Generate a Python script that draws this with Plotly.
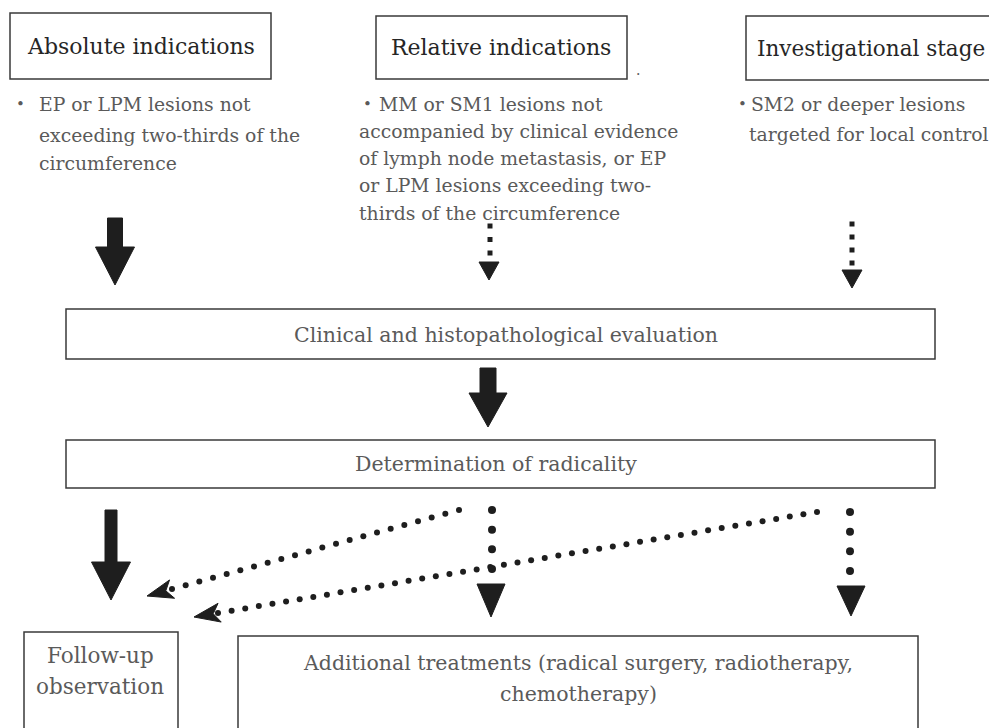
import math
import plotly.graph_objects as go

# ---------------- content ----------------
stage_titles = ["Absolute indications", "Relative indications", "Investigational stage"]
stage_bullets = [
    ["EP or LPM lesions not", "exceeding two-thirds of the", "circumference"],
    ["MM or SM1 lesions not", "accompanied by clinical evidence",
     "of lymph node metastasis, or EP", "or LPM lesions exceeding two-",
     "thirds of the circumference"],
    ["SM2 or deeper lesions", "targeted for local control"],
]
process_steps = ["Clinical and histopathological evaluation", "Determination of radicality"]
outcome_lines = [["Follow-up", "observation"],
                 ["Additional treatments (radical surgery, radiotherapy,", "chemotherapy)"]]

# ---------------- layout (pixel space) ----------------
W, H = 997, 728
PAGE_MARGIN = 8  # browser default body margin
SERIF = "DejaVu Serif"
BOX_COL = "#3a3a3a"
TITLE_COL = "#262626"
BODY_COL = "#5a5a5a"
ARROW_COL = "#1e1e1e"

stage_boxes = [(10, 13, 271, 79), (376, 16, 627, 79), (746, 16, 1010, 80)]
stage_title_x = [141, 501, 871]
stage_title_size = [22, 22, 21.5]
bullet_dot = [(20, 104), (367, 104), (742, 104)]
bullet_line_x = [[37, 37, 37], [377, 357, 357, 357, 357], [749, 747]]
bullet_line_y = [[104, 135, 163], [104, 131, 158, 185, 213], [104, 134]]

step_boxes = [(66, 309, 935, 359), (66, 440, 935, 488)]
step_text_pos = [(506, 335), (496, 464)]

outcome_boxes = [(24, 632, 178, 740), (238, 636, 918, 740)]
outcome_text_x = [100, 578]
outcome_text_y = [[655, 686], [663, 694]]
outcome_size = [21.5, 20.5]

fig = go.Figure()
shapes = []
annotations = []


def rect(b):
    return dict(type="rect", x0=b[0], y0=b[1], x1=b[2], y1=b[3],
                line=dict(color=BOX_COL, width=1.5), fillcolor="rgba(0,0,0,0)",
                layer="above")


def poly(points):
    d = "M " + " L ".join(f"{x},{y}" for x, y in points) + " Z"
    return dict(type="path", path=d, fillcolor=ARROW_COL,
                line=dict(color=ARROW_COL, width=1), layer="above")


def solid_down(cx, top, head_top, tip, shaft_w, head_w):
    s, h = shaft_w / 2, head_w / 2
    return poly([(cx - s, top), (cx + s, top), (cx + s, head_top), (cx + h, head_top),
                 (cx, tip), (cx - h, head_top), (cx - s, head_top)])


def tri_down(cx, base, tip, w):
    return poly([(cx - w / 2, base), (cx + w / 2, base), (cx, tip)])


def notched_head(tip, src, length, width):
    dx, dy = tip[0] - src[0], tip[1] - src[1]
    L = math.hypot(dx, dy)
    ux, uy = dx / L, dy / L
    px, py = -uy, ux
    bx, by = tip[0] - ux * length, tip[1] - uy * length
    nx, ny = tip[0] - ux * length * 0.75, tip[1] - uy * length * 0.75
    return poly([tip, (bx + px * width / 2, by + py * width / 2), (nx, ny),
                 (bx - px * width / 2, by - py * width / 2)])


def dots(p0, p1, n, size, symbol):
    xs = [p0[0] + (p1[0] - p0[0]) * i / (n - 1) for i in range(n)]
    ys = [p0[1] + (p1[1] - p0[1]) * i / (n - 1) for i in range(n)]
    fig.add_trace(go.Scatter(x=xs, y=ys, mode="markers", hoverinfo="skip",
                             marker=dict(size=size, color=ARROW_COL, symbol=symbol,
                                         line=dict(width=0)), showlegend=False))


# stage boxes, titles, bullets
for i, title in enumerate(stage_titles):
    shapes.append(rect(stage_boxes[i]))
    b = stage_boxes[i]
    annotations.append(dict(x=stage_title_x[i], y=(b[1] + b[3]) / 2, text=title,
                            showarrow=False, xanchor="center", yanchor="middle",
                            font=dict(family=SERIF, size=stage_title_size[i], color=TITLE_COL)))
    annotations.append(dict(x=bullet_dot[i][0], y=bullet_dot[i][1], text="•",
                            showarrow=False, xanchor="center", yanchor="middle",
                            font=dict(family=SERIF, size=15, color=BODY_COL)))
    for j, line in enumerate(stage_bullets[i]):
        annotations.append(dict(x=bullet_line_x[i][j], y=bullet_line_y[i][j], text=line,
                                showarrow=False, xanchor="left", yanchor="middle",
                                font=dict(family=SERIF, size=18.8, color=BODY_COL)))

# process steps
for i, step in enumerate(process_steps):
    shapes.append(rect(step_boxes[i]))
    annotations.append(dict(x=step_text_pos[i][0], y=step_text_pos[i][1], text=step,
                            showarrow=False, xanchor="center", yanchor="middle",
                            font=dict(family=SERIF, size=20.5, color=BODY_COL)))

# outcomes
for i, lines in enumerate(outcome_lines):
    shapes.append(rect(outcome_boxes[i]))
    for j, line in enumerate(lines):
        annotations.append(dict(x=outcome_text_x[i], y=outcome_text_y[i][j], text=line,
                                showarrow=False, xanchor="center", yanchor="middle",
                                font=dict(family=SERIF, size=outcome_size[i], color=BODY_COL)))

# solid arrows
shapes.append(solid_down(115, 218, 247, 285, 15, 39))
shapes.append(solid_down(488, 368, 393, 427, 16, 38))
shapes.append(solid_down(111, 510, 562, 600, 12, 39))

# top dotted arrows
dots((490, 226), (490, 253), 3, 5, "square")
shapes.append(tri_down(489, 262, 280, 20))
dots((852, 224), (852, 263), 4, 5, "square")
shapes.append(tri_down(852, 270, 288, 20))

# bottom vertical dotted arrows
dots((492, 510), (492, 569), 4, 8, "circle")
shapes.append(tri_down(491, 584, 617, 28))
dots((850, 512), (850, 571), 4, 8, "circle")
shapes.append(tri_down(851, 586, 616, 28))

# diagonal dotted arrows
d1_start, d1_tip = (459, 510), (147, 596)
dots(d1_start, (172, 589), 22, 6, "circle")
shapes.append(notched_head(d1_tip, d1_start, 26, 19))
d2_start, d2_tip = (817, 512), (194, 617)
dots(d2_start, (218, 613), 45, 6, "circle")
shapes.append(notched_head(d2_tip, d2_start, 26, 19))

# small stray mark next to the second box
annotations.append(dict(x=638, y=70, text=".", showarrow=False,
                        font=dict(family=SERIF, size=14, color=BODY_COL)))

# The page body has an 8px margin, so the plot area covers page pixels 8..W, 8..H
fig.update_layout(
    width=W - PAGE_MARGIN, height=H - PAGE_MARGIN, margin=dict(l=0, r=0, t=0, b=0),
    paper_bgcolor="white", plot_bgcolor="white",
    xaxis=dict(range=[PAGE_MARGIN, W], visible=False, fixedrange=True),
    yaxis=dict(range=[H, PAGE_MARGIN], visible=False, fixedrange=True),
    shapes=shapes, annotations=annotations, showlegend=False,
)
fig.write_html("out.html")
